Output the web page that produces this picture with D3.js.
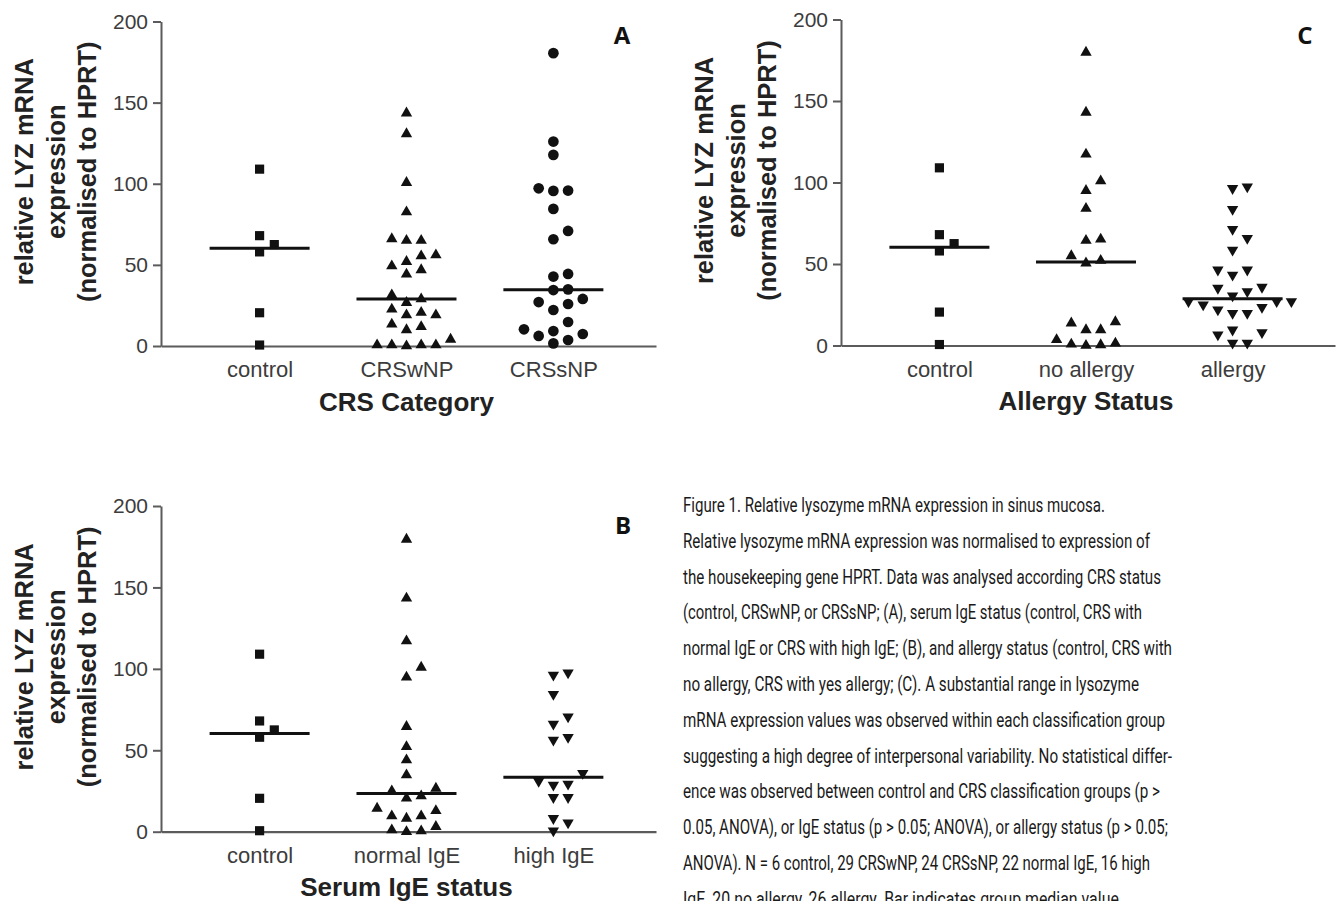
<!DOCTYPE html>
<html>
<head>
<meta charset="utf-8">
<script src="https://cdn.jsdelivr.net/npm/d3@7"></script>
<style>
  body { margin: 0; background: #fff; }
  svg { display: block; }
</style>
</head>
<body>
<div class="figure-container"></div>
<script>
// Values (relative LYZ mRNA, normalised to HPRT).
const controlValues = [109, 68, 62.5, 58, 20.5, 0.6];

const crsCategories = ['control', 'CRSwNP', 'CRSsNP'];
const crswnpValues = [143.5, 130.7, 100.7, 82.6, 66, 65, 65, 56.1, 55.5, 52, 49.3, 46.9, 44.2,
    31.4, 29, 26.7, 22.6, 20.6, 19.1, 19.1, 13.4, 11.9, 9.9, 4.1, 0.6, 0.6, 0.6, 0.6, 0];
const crssnpValues = [180.5, 126, 117.8, 97.2, 95.8, 95.6, 84.5, 70.9, 65.8, 44.4, 42.8, 34.9,
    34.5, 29, 27.1, 25.9, 22.2, 14.8, 10.3, 9.2, 7.4, 6.2, 3.7, 1.6];

const igeCategories = ['control', 'normal IgE', 'high IgE'];
const normalIgeValues = [179.5, 143.3, 117.1, 100.9, 94.8, 64.5, 52.2, 44, 34.8, 26.6, 25, 21.9,
    20.5, 14.3, 12.9, 9.6, 9.6, 8.2, 3.1, 1, 0.4, 0];
const highIgeValues = [97.6, 96.2, 84.4, 70.6, 66.1, 58, 56.3, 35.9, 31, 29.3, 28.7, 21.1, 21.1,
    8.2, 5.5, 0.6];

const allergyCategories = ['control', 'no allergy', 'allergy'];
const noAllergyValues = [179.8, 143, 117.3, 100.9, 95, 84, 65.2, 64.4, 55, 52.1, 50.5, 14.5, 13.7,
    9.6, 9.6, 3.5, 1.4, 0.8, 0.4, 0];
const allergyValues = [97.4, 96.4, 83.6, 71.3, 65.8, 58.6, 46.4, 46.4, 43.3, 35.8, 35.2, 33.1, 30.5,
    27, 27, 27, 25, 23.5, 21.9, 19.8, 19.8, 9.6, 8, 6.6, 1.5, 1.5];

const yTicks = [0, 50, 100, 150, 200];
const yTitleLines = ['relative LYZ mRNA', 'expression', '(normalised to HPRT)'];

const captionLines = [
    'Figure 1. Relative lysozyme mRNA expression in sinus mucosa.',
    'Relative lysozyme mRNA expression was normalised to expression of',
    'the housekeeping gene HPRT. Data was analysed according CRS status',
    '(control, CRSwNP, or CRSsNP; (A), serum IgE status (control, CRS with',
    'normal IgE or CRS with high IgE; (B), and allergy status (control, CRS with',
    'no allergy, CRS with yes allergy; (C). A substantial range in lysozyme',
    'mRNA expression values was observed within each classification group',
    'suggesting a high degree of interpersonal variability. No statistical differ-',
    'ence was observed between control and CRS classification groups (p >',
    '0.05, ANOVA), or IgE status (p > 0.05; ANOVA), or allergy status (p > 0.05;',
    'ANOVA). N = 6 control, 29 CRSwNP, 24 CRSsNP, 22 normal IgE, 16 high',
    'IgE, 20 no allergy, 26 allergy. Bar indicates group median value.'
];
// measured length of each caption line
const captionWidths = [422, 467, 478, 459, 489, 456, 482, 489, 477, 485, 467, 440];

const AXIS_COLOR = '#5b5b5b';
const TEXT_COLOR = '#3c3c3c';
const SANS = '"Liberation Sans", Arial, Helvetica, sans-serif';

const svg = d3
    .select('.figure-container')
    .append('svg')
    .attr('width', 1342)
    .attr('height', 901);

const panels = [
    {
        letter: 'A', title: 'CRS Category', categories: crsCategories,
        series: [controlValues, crswnpValues, crssnpValues],
        symbols: ['square', 'up', 'circle'],
        left: 161, top: 21.5, width: 495, height: 324.5, letterX: 622, letterY: 44
    },
    {
        letter: 'C', title: 'Allergy Status', categories: allergyCategories,
        series: [controlValues, noAllergyValues, allergyValues],
        symbols: ['square', 'up', 'down'],
        left: 841, top: 19.5, width: 494, height: 326, letterX: 1305, letterY: 44
    },
    {
        letter: 'B', title: 'Serum IgE status', categories: igeCategories,
        series: [controlValues, normalIgeValues, highIgeValues],
        symbols: ['square', 'up', 'down'],
        left: 161, top: 506, width: 495, height: 325.7, letterX: 623, letterY: 534
    }
];

panels.forEach(drawPanel);
drawCaption();

function symbolPath(kind) {
    if (kind === 'square') return d3.symbol(d3.symbolSquare, 84)();
    if (kind === 'circle') return d3.symbol(d3.symbolCircle, 90)();
    return d3.symbol(d3.symbolTriangle, 56)();
}

// Column scatter: spread points sideways into slots so they do not overlap.
function spreadPoints(values, yScale, minGap) {
    const order = [0, 1, -1, 2, -2, 3, -3, 4, -4, 5, -5];
    const placed = [];
    values
        .map((v, i) => ({ v, i }))
        .sort((a, b) => a.v - b.v)
        .forEach(p => {
            const py = yScale(p.v);
            const slot = order.find(s =>
                !placed.some(q => q.slot === s && Math.abs(q.py - py) < minGap));
            placed.push({ v: p.v, py, slot });
        });
    return placed;
}

function drawPanel(panel) {
    const g = svg.append('g')
        .attr('transform', `translate(${panel.left}, ${panel.top})`);

    const yScale = d3.scaleLinear()
        .domain([0, 200])
        .range([panel.height, 0]);

    const xScale = d3.scalePoint()
        .domain(panel.categories)
        .range([0, panel.width])
        .padding(0.685)
        .align(0.49);

    const slotWidth = 14.7;

    // y axis
    const axisY = d3.axisLeft(yScale)
        .tickValues(yTicks)
        .tickSize(8)
        .tickSizeOuter(0)
        .tickPadding(5);

    const yAxisG = g.append('g').call(axisY);
    yAxisG.select('.domain').attr('stroke', AXIS_COLOR).attr('stroke-width', 2);
    yAxisG.selectAll('.tick line').attr('stroke', AXIS_COLOR).attr('stroke-width', 2);
    yAxisG.selectAll('.tick text')
        .attr('fill', TEXT_COLOR)
        .style('font-family', SANS)
        .style('font-size', '21px');

    // x axis (category labels, no ticks)
    const axisX = d3.axisBottom(xScale)
        .tickSize(0)
        .tickSizeOuter(0)
        .tickPadding(15.5);

    const xAxisG = g.append('g')
        .attr('transform', `translate(0, ${panel.height})`)
        .call(axisX);
    xAxisG.select('.domain').attr('stroke', AXIS_COLOR).attr('stroke-width', 2.2);
    xAxisG.selectAll('.tick text')
        .attr('fill', TEXT_COLOR)
        .style('font-family', SANS)
        .style('font-size', '22px');

    // axis titles
    g.append('text')
        .attr('x', xScale(panel.categories[1]))
        .attr('y', panel.height + 64.5)
        .attr('text-anchor', 'middle')
        .attr('fill', '#222')
        .style('font-family', SANS)
        .style('font-weight', 'bold')
        .style('font-size', '26px')
        .text(panel.title);

    const titleOffsets = [-128, -96, -65];
    yTitleLines.forEach((line, i) => {
        g.append('text')
            .attr('transform', `translate(${titleOffsets[i]}, ${panel.height / 2 - 12}) rotate(-90)`)
            .attr('text-anchor', 'middle')
            .attr('fill', '#222')
            .style('font-family', SANS)
            .style('font-weight', 'bold')
            .style('font-size', '25.5px')
            .text(line);
    });

    // panel letter
    svg.append('text')
        .attr('x', panel.letterX)
        .attr('y', panel.letterY)
        .attr('text-anchor', 'middle')
        .attr('fill', '#111')
        .style('font-family', '"Open Sans", "Noto Sans", sans-serif')
        .style('font-weight', 'bold')
        .style('font-size', '24px')
        .text(panel.letter);

    // points and median bars
    panel.series.forEach((values, ci) => {
        const cx = xScale(panel.categories[ci]);
        const kind = panel.symbols[ci];
        const points = spreadPoints(values, yScale, 12);

        g.append('g')
            .selectAll('.point')
            .data(points)
            .enter()
            .append('path')
            .attr('class', 'point')
            .attr('d', symbolPath(kind))
            .attr('transform', d => `translate(${cx + d.slot * slotWidth}, ${d.py})${kind === 'down' ? ' rotate(180)' : ''}`)
            .attr('fill', '#111');

        const median = d3.median(values);
        g.append('line')
            .attr('x1', cx - 50)
            .attr('x2', cx + 50)
            .attr('y1', yScale(median))
            .attr('y2', yScale(median))
            .attr('stroke', '#111')
            .attr('stroke-width', 3);
    });
}

function drawCaption() {
    const caption = svg.append('g')
        .attr('class', 'caption');

    captionLines.forEach((line, i) => {
        caption.append('text')
            .attr('x', 683)
            .attr('y', 512 + i * 35.8)
            .attr('fill', '#1a1a1a')
            .attr('textLength', captionWidths[i])
            .attr('lengthAdjust', 'spacingAndGlyphs')
            .style('font-family', '"Liberation Sans Narrow", "Roboto", sans-serif')
            .style('font-size', '20px')
            .text(line);
    });
}
</script>
</body>
</html>
